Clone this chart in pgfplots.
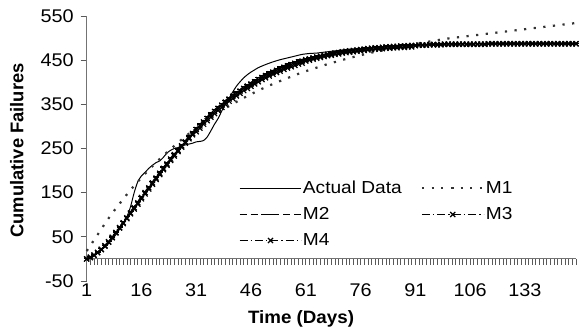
\documentclass[border=0pt]{standalone}
\usepackage{pgfplots}
\pgfplotsset{compat=1.18}
\usepackage{pgfplotstable}
\usepackage{fontspec}
\setmainfont{Liberation Sans}

\pgfplotstableread{
i m2 m3 m4
1 1 0 0
2 5 4 3
3 10 9 8
4 16 15 14
5 23 22 21
6 31 30 29
7 40 39 38
8 50 49 48
9 61 60 59
10 72 71 70
11 85 82 80
12 96 93 91
13 107 104 102
14 119 116 113
15 130 127 124
16 142 139 136
17 153 150 147
18 164 161 158
19 175 172 169
20 186 183 180
21 197 194 191
22 208 205 202
23 218 215 212
24 229 226 223
25 239 236 233
26 249 246 243
27 259 256 253
28 268 265 262
29 278 275 272
30 287 284 281
31 297 293 288
32 305 301 296
33 314 310 305
34 322 318 313
35 330 326 321
36 338 334 329
37 345 341 336
38 352 348 343
39 359 355 350
40 366 362 357
41 372 368 363
42 378 374 369
43 384 380 375
44 390 386 381
45 395 391 386
46 400 396 391
47 405 401 396
48 410 406 401
49 415 411 406
50 419 415 410
51 423 419 414
52 427 423 418
53 431 427 422
54 434 430 425
55 438 434 429
56 441 437 432
57 444 440 435
58 447 443 438
59 450 446 441
60 452 448 443
61 453 451 448
62 455 453 450
63 457 455 452
64 459 457 454
65 461 459 456
66 463 461 458
67 465 463 460
68 466 464 461
69 468 466 463
70 469 467 464
71 471 469 466
72 472 470 467
73 473 471 468
74 474 472 469
75 475 473 470
76 476 474 471
77 477 475 472
78 478 476 473
79 479 477 474
80 480 478 475
81 480 478 475
82 481 479 476
83 482 480 477
84 482 480 477
85 483 481 478
86 483 481 478
87 484 482 479
88 484 482 479
89 485 483 480
90 485 483 480
91 484 483 483
92 485 484 484
93 485 484 484
94 485 484 484
95 486 485 485
96 486 485 485
97 486 485 485
98 486 485 485
99 487 486 486
100 487 486 486
101 487 486 486
102 487 486 486
103 487 486 486
104 487 486 486
105 487 486 486
106 487 486 486
107 487 486 486
108 487 486 486
109 487 486 486
110 487 486 486
111 488 487 487
112 488 487 487
113 488 487 487
114 488 487 487
115 488 487 487
116 488 487 487
117 488 487 487
118 488 487 487
119 488 487 487
120 488 487 487
121 488 487 487
122 488 487 487
123 488 487 487
124 488 487 487
125 488 487 487
126 488 487 487
127 488 487 487
128 488 487 487
129 488 487 487
130 488 487 487
131 488 487 487
132 488 487 487
133 488 487 487
134 488 487 487
135 488 487 487
}\models

\begin{document}
\begin{tikzpicture}
\begin{axis}[
  scale only axis, width=491bp, height=266bp,
  xmin=1, xmax=135, ymin=-50, ymax=550,
  clip=false,
  axis x line*=middle, axis y line*=left,
  hide obscured x ticks=false, hide obscured y ticks=false,
  axis line style={black!55, line width=0.9bp},
  tick align=outside,
  xtick={1,16,31,46,61,76,91,106,121},
  xticklabels={1,16,31,46,61,76,91,106,133},
  minor xtick={1,2,...,135},
  major tick length=6bp, minor tick length=6bp,
  tick style={black!65, line width=0.7bp},
  ytick={-50,50,150,250,350,450,550},
  yticklabels={-50,50,150,250,350,450,550},
  x tick label style={font=\fontsize{18.5}{21}\selectfont, xscale=1.08, anchor=north, yshift=-15bp},
  y tick label style={font=\fontsize{18.5}{21}\selectfont, xscale=1.08, anchor=east, xshift=-3bp},
  xlabel={Time (Days)},
  ylabel={Cumulative Failures},
  xlabel style={font=\bfseries\fontsize{18}{21}\selectfont, xscale=1.05, at={(axis description cs:0.438,-0.143)}, anchor=center},
  ylabel style={font=\bfseries\fontsize{18.5}{21}\selectfont, at={(axis description cs:-0.1426,0.4925)}, anchor=center},
  legend columns=2,
  legend style={draw=none, fill=none, at={(axis description cs:0.311,0.385)}, anchor=north west,
    font=\fontsize{17.5}{20}\selectfont, inner sep=0pt, /tikz/row sep=8.5bp,
    cells={anchor=west}, nodes={inner xsep=1bp, xscale=1.1}},
  /tikz/every even column/.append style={column sep=18bp},
  legend image code/.code={\draw[mark repeat=2,mark phase=2] plot coordinates {(0bp,0bp) (31bp,0bp) (62bp,0bp)};},
]
\addplot[black, line width=1bp, smooth, tension=0.4] coordinates {
(1,0) (3,8) (5,20) (7,35) (9,55) (11,80) (12,95) (13,118) (14,150) (15,175) (16,188) (17,196)
(18,205) (19,212) (20,218) (21,222) (22,230) (23,240) (24,246) (25,250) (26,252) (27,256)
(28,258) (29,260) (30,262) (31,265) (32,266) (33,268) (34,276) (35,290) (36,305) (37,318)
(38,335) (39,350) (40,364) (41,378) (42,391) (43,401) (44,410) (45,417) (46,423) (47,428)
(48,433) (50,440) (52,446) (54,451) (56,455) (58,459) (60,463) (62,465) (64,466) (66,468)
(68,470) (70,472) (72,474) (75,476) (78,478) (81,480) (85,482) (90,484) (95,486) (100,487)
(110,487) (120,488) (135,488)};
\addlegendentry{Actual Data}
\addplot[black!80, line width=2.2bp, dash pattern=on 2.2bp off 7.5bp, smooth] coordinates {
(1,18) (4,55) (7,92) (10,125) (13,156) (16,184) (19,210) (22,234) (25,256) (28,277) (31,296)
(34,314) (37,331) (40,346) (43,360) (46,373) (49,385) (52,396) (55,406) (58,416) (61,425)
(64,433) (67,441) (70,448) (73,455) (76,461) (79,467) (82,472) (85,477) (88,482) (91,487)
(94,491) (97,495) (100,499) (103,502) (106,505) (109,508) (112,511) (115,514) (118,517)
(121,520) (124,523) (127,526) (130,529) (133,532) (135,534)};
\addlegendentry{M1}
\addplot[black, line width=1bp, dash pattern=on 7bp off 4bp, mark=-, mark size=3bp,
  mark options={solid, line width=1.4bp}] table[x=i, y=m2] {\models};
\addlegendentry{M2}
\addplot[black, line width=1bp, dash pattern=on 8bp off 3bp on 1.5bp off 3bp, mark=x, mark size=3.6bp,
  mark options={solid, line width=1.2bp}] table[x=i, y=m3] {\models};
\addlegendentry{M3}
\addplot[black, line width=1bp, dash pattern=on 8bp off 3bp on 1.5bp off 3bp, mark=x, mark size=3.6bp,
  mark options={solid, line width=1.2bp}] table[x=i, y=m4] {\models};
\addlegendentry{M4}
\end{axis}
\path (current axis.south west) ++(-87bp,-51bp) (current axis.north east) ++(1bp,16bp);
\end{tikzpicture}
\end{document}
